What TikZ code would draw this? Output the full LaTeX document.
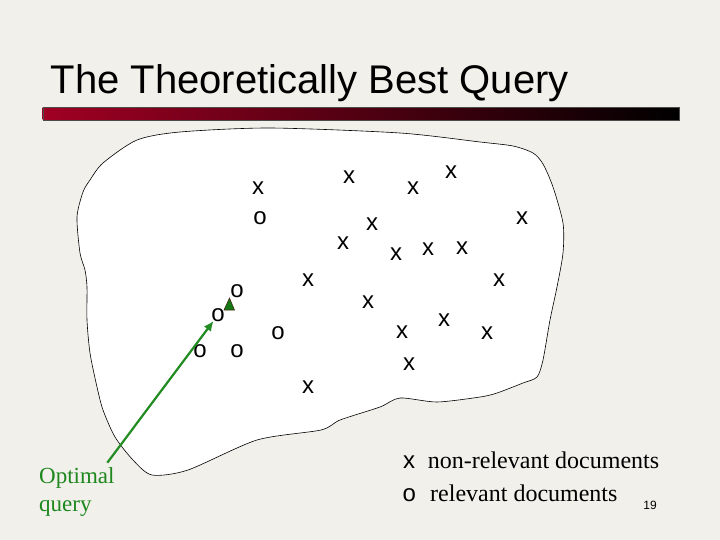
\documentclass[tikz,border=0pt]{standalone}
\usepackage{fontspec}
\setmainfont{Liberation Serif}
\newfontfamily\arialf{Liberation Sans}
\usetikzlibrary{arrows.meta}
\definecolor{bgc}{RGB}{241,240,234}
\definecolor{barred}{RGB}{160,0,35}
\definecolor{qgreen}{RGB}{34,139,34}
\definecolor{tgreen}{RGB}{30,135,30}
\definecolor{trigreen}{RGB}{20,120,20}
\definecolor{trioutline}{RGB}{70,45,20}
\tikzset{
  mk/.style={inner sep=0pt, font=\arialf\fontsize{24}{24}\selectfont},
  legtext/.style={inner sep=0pt, anchor=base west, font=\fontsize{24}{24}\selectfont},
  legmk/.style={inner sep=0pt, anchor=base west, font=\arialf\fontsize{24}{24}\selectfont},
  qtext/.style={inner sep=0pt, anchor=base west, text=tgreen, font=\fontsize{23}{23}\selectfont},
}
\begin{document}
\begin{tikzpicture}[x=1pt,y=-1pt]
\fill[bgc] (0,0) rectangle (720,540);
\useasboundingbox (0,0) rectangle (720,540);
% title
\node[inner sep=0pt, anchor=base west, font=\arialf\fontsize{40}{40}\selectfont] (title) at (50.5,94) {The Theoretically Best Query};
\shade[left color=barred, right color=black] (42.7,107.7) rectangle (679,120);
\draw[black!70, line width=0.4pt] (42.7,107.7) rectangle (679,120);
% blob
\draw[fill=white, line width=0.6pt] plot[smooth cycle, tension=0.45] coordinates {
 (180,132) (270,128) (400,133) (480,142) (513,146) (533,153) (543,164) (553,187)
 (563,223) (563,253) (557,287) (550,320) (543,360) (537,377) (523,383) (497,393)
 (480,397) (437,402) (400,398) (380,407) (340,420) (321,430) (257,440) (188,470)
 (152,475) (133,460) (115,437) (103,410) (97,387) (90,353) (87,320) (87,287)
 (85,270) (80,253) (77,217) (83,192) (90,180) (103,163) (137,140)};
% non-relevant (x)
\node[mk] (x1) at (258,188) {x};
\node[mk] (x2) at (349,177) {x};
\node[mk] (x3) at (413,188) {x};
\node[mk] (x4) at (451,172) {x};
\node[mk] (x5) at (522,218) {x};
\node[mk] (x6) at (372,224) {x};
\node[mk] (x7) at (343,243) {x};
\node[mk] (x8) at (396,254) {x};
\node[mk] (x9) at (428,249) {x};
\node[mk] (x10) at (462,248) {x};
\node[mk] (x11) at (308,280) {x};
\node[mk] (x12) at (499,280) {x};
\node[mk] (x13) at (368,302) {x};
\node[mk] (x14) at (402,332) {x};
\node[mk] (x15) at (444,320) {x};
\node[mk] (x16) at (487,333) {x};
\node[mk] (x17) at (409,364) {x};
\node[mk] (x18) at (308,387) {x};
% relevant (o)
\node[mk] (o1) at (260,218) {o};
\node[mk] (o2) at (237,291) {o};
\node[mk] (o3) at (218,315) {o};
\node[mk] (o4) at (278,333) {o};
\node[mk] (o5) at (200,351) {o};
\node[mk] (o6) at (237,351) {o};
% ideal point triangle
\filldraw[fill=trigreen, draw=trioutline, line width=0.6pt] (224,310) -- (229.5,298) -- (234.5,310) -- cycle;
% optimal query arrow
\coordinate (qs) at (107.3,462.7);
\draw[qgreen, line width=2.2pt, -{Latex[length=10pt,width=9pt]}, shorten >=-1pt] (qs) -- (o3);
\node[qtext] (opt1) at (39,483.3) {Optimal};
\node[qtext] (opt2) at (39,511.7) {query};
% legend
\node[legmk] (lx) at (403,468) {x};
\node[legtext] (lxt) at (427.7,468) {non-relevant documents};
\node[legmk] (lo) at (402.5,501.7) {o};
\node[legtext] (lot) at (430,501.7) {relevant documents};
\node[inner sep=0pt, anchor=base east, font=\arialf\fontsize{12}{12}\selectfont] (pg) at (657,509) {19};
\end{tikzpicture}
\end{document}
